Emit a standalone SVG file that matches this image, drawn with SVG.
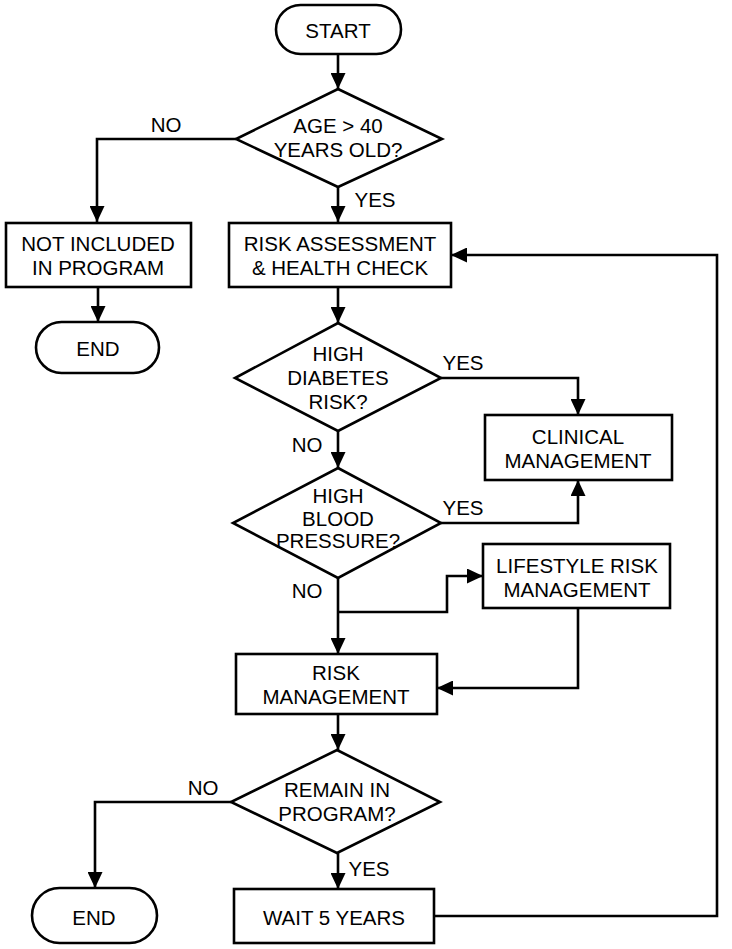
<svg xmlns="http://www.w3.org/2000/svg" width="732" height="949" viewBox="0 0 732 949">
<defs>
<marker id="ah" viewBox="0 0 16 15" refX="16" refY="7.5" markerWidth="16" markerHeight="15" markerUnits="userSpaceOnUse" orient="auto"><path d="M0,0 L16,7.5 L0,15 z" fill="#000"/></marker>
<style>
.s{fill:#fff;stroke:#000;stroke-width:2.6}
.c{fill:none;stroke:#000;stroke-width:2.6;marker-end:url(#ah)}
.cn{fill:none;stroke:#000;stroke-width:2.6}
text{font-family:"Liberation Sans",Arial,sans-serif;font-size:20.5px;fill:#000;text-anchor:middle}
</style>
</defs>
<rect width="732" height="949" fill="#fff"/>
<g id="connectors">
<path class="c" d="M338,54 V89"/>
<path class="c" d="M236,139 H97 V222"/>
<path class="c" d="M338,187 V222"/>
<path class="c" d="M98,287 V322"/>
<path class="c" d="M338,287 V323"/>
<path class="c" d="M441,378 H578 V415"/>
<path class="c" d="M338,431 V468"/>
<path class="c" d="M441,523 H578 V480"/>
<path class="c" d="M338,578 V654"/>
<path class="c" d="M338,612 H447 V576 H483"/>
<path class="c" d="M578,608 V688 H437"/>
<path class="c" d="M338,714 V750"/>
<path class="c" d="M231,802 H95 V888"/>
<path class="c" d="M338,853 V889"/>
<path class="c" d="M434,916 H717 V255 H451"/>
<text x="166" y="132">NO</text>
<text x="375" y="207">YES</text>
<text x="463" y="370">YES</text>
<text x="307" y="452">NO</text>
<text x="463" y="515">YES</text>
<text x="307" y="598">NO</text>
<text x="203" y="795">NO</text>
<text x="369" y="876">YES</text>
</g>
<g id="start"><rect class="s" x="276" y="5" width="125" height="49" rx="24.5"/><text x="338" y="38">START</text></g>
<g id="age"><polygon class="s" points="338,89 442,139 338,187 236,139"/><text x="338" y="133">AGE &gt; 40</text><text x="338" y="157">YEARS OLD?</text></g>
<g id="notincluded"><rect class="s" x="6" y="223" width="185" height="64"/><text x="98" y="251">NOT INCLUDED</text><text x="98" y="275">IN PROGRAM</text></g>
<g id="end1"><rect class="s" x="36" y="322" width="123" height="51" rx="25.5"/><text x="98" y="356">END</text></g>
<g id="riskassessment"><rect class="s" x="229" y="223" width="222" height="64"/><text x="340" y="251">RISK ASSESSMENT</text><text x="340" y="275">&amp; HEALTH CHECK</text></g>
<g id="diabetes"><polygon class="s" points="338,323 441,378 338,431 235,378"/><text x="338" y="361">HIGH</text><text x="338" y="385">DIABETES</text><text x="338" y="409">RISK?</text></g>
<g id="clinical"><rect class="s" x="485" y="415" width="187" height="65"/><text x="578" y="444">CLINICAL</text><text x="578" y="468">MANAGEMENT</text></g>
<g id="bloodpressure"><polygon class="s" points="338,468 441,523 338,578 233,523"/><text x="338" y="503">HIGH</text><text x="338" y="526">BLOOD</text><text x="338" y="548">PRESSURE?</text></g>
<g id="lifestyle"><rect class="s" x="483" y="544" width="187" height="64"/><text x="577" y="573">LIFESTYLE RISK</text><text x="577" y="597">MANAGEMENT</text></g>
<g id="riskmanagement"><rect class="s" x="236" y="654" width="201" height="60"/><text x="336" y="680">RISK</text><text x="336" y="704">MANAGEMENT</text></g>
<g id="remain"><polygon class="s" points="337,750 440,802 337,853 231,802"/><text x="337" y="797">REMAIN IN</text><text x="337" y="821">PROGRAM?</text></g>
<g id="end2"><rect class="s" x="32" y="888" width="125" height="55" rx="27.5"/><text x="94" y="925">END</text></g>
<g id="wait"><rect class="s" x="234" y="889" width="200" height="54"/><text x="334" y="925">WAIT 5 YEARS</text></g>
</svg>
